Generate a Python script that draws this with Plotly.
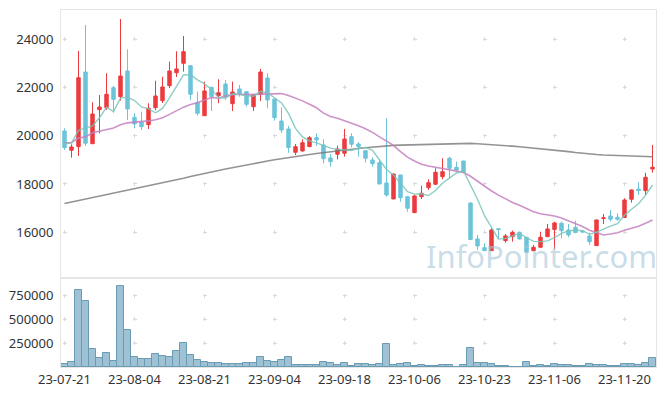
import plotly.graph_objects as go
from plotly.subplots import make_subplots
import pandas as pd

dates = [
    "23-07-21", "23-07-24", "23-07-25", "23-07-26", "23-07-27", "23-07-28", "23-07-31",
    "23-08-01", "23-08-02", "23-08-03", "23-08-04", "23-08-07", "23-08-08", "23-08-09",
    "23-08-10", "23-08-11", "23-08-14", "23-08-16", "23-08-17", "23-08-18", "23-08-21",
    "23-08-22", "23-08-23", "23-08-24", "23-08-25", "23-08-28", "23-08-29", "23-08-30",
    "23-08-31", "23-09-01", "23-09-04", "23-09-05", "23-09-06", "23-09-07", "23-09-08",
    "23-09-11", "23-09-12", "23-09-13", "23-09-14", "23-09-15", "23-09-18", "23-09-19",
    "23-09-20", "23-09-21", "23-09-22", "23-09-25", "23-09-26", "23-09-27", "23-10-04",
    "23-10-05", "23-10-06", "23-10-10", "23-10-11", "23-10-12", "23-10-13", "23-10-16",
    "23-10-17", "23-10-18", "23-10-19", "23-10-20", "23-10-23", "23-10-24", "23-10-25",
    "23-10-26", "23-10-27", "23-10-30", "23-10-31", "23-11-01", "23-11-02", "23-11-03",
    "23-11-06", "23-11-07", "23-11-08", "23-11-09", "23-11-10", "23-11-13", "23-11-14",
    "23-11-15", "23-11-16", "23-11-17", "23-11-20", "23-11-21", "23-11-22", "23-11-23",
    "23-11-24",
]

opens = [20194, 19395, 19544, 22635, 19669, 21075, 21158, 21985, 21613, 22676,
         20761, 20566, 20455, 21158, 21447, 22068, 22606, 22995, 22895, 21381,
         20827, 22002, 21654, 22138, 21323, 21932, 21820, 21199, 21712, 22386,
         21518, 20608, 20277, 19313, 19367, 19545, 19917, 19615, 19077, 19230,
         19271, 19958, 19656, 19379, 18994, 18883, 18043, 17381, 18374, 17476,
         16814, 17476, 17848, 17989, 18303, 19065, 18692, 18953, 17215, 15726,
         15366, 15242, 16150, 15656, 15821, 16003, 15796, 15242, 15383, 15821,
         16119, 16376, 16098, 16210, 16050, 15850, 15449, 16570, 16677, 16624,
         16615, 17368, 17790, 17724, 18622]
highs = [20306, 19644, 23504, 24579, 21381, 21683, 22581, 22056, 24827, 23574,
         20926, 20993, 21340, 22275, 22440, 23061, 23490, 24124, 22924, 21820,
         22234, 22020, 22333, 22304, 22234, 22097, 21850, 21700, 22759, 22581,
         21530, 21174, 20401, 19656, 19851, 19987, 20099, 19851, 19242, 19586,
         20277, 20099, 19727, 19400, 19106, 19023, 20719, 18430, 18380, 17500,
         17546, 17931, 18196, 18651, 19065, 19131, 18924, 18960, 17230, 15892,
         15548, 16168, 16150, 15933, 16070, 16030, 15800, 15478, 16028, 16346,
         16440, 16440, 16346, 16483, 16098, 15987, 16520, 16760, 16926, 16789,
         17410, 17770, 18072, 18469, 19615]
lows = [19408, 19089, 19160, 19573, 19650, 20099, 21063, 20950, 21450, 20649,
        20306, 20235, 20277, 21050, 21350, 21970, 22428, 22647, 21476, 20827,
        20810, 21021, 21340, 21476, 21021, 21613, 21200, 21021, 21435, 21133,
        20620, 20110, 19296, 19201, 19340, 19530, 19573, 18858, 18717, 19023,
        19131, 19520, 19131, 18883, 18717, 17990, 17476, 17370, 17269, 16855,
        16800, 17381, 17753, 17960, 18196, 18208, 18540, 18444, 15685, 15271,
        15230, 15230, 15755, 15573, 15615, 15700, 15170, 15230, 15370, 15800,
        15300, 15740, 15796, 15962, 15962, 15478, 15440, 16346, 16442, 16483,
        16600, 17228, 17546, 17546, 18469]
closes = [19503, 19532, 22399, 19685, 20897, 21187, 21712, 21505, 22469, 21104,
          20484, 20372, 21133, 21642, 22014, 22676, 22759, 23475, 21712, 20926,
          21849, 21613, 21778, 21613, 21807, 21753, 21298, 21683, 22635, 21476,
          20744, 20235, 19511, 19545, 19710, 19917, 19822, 19048, 18924, 19449,
          19863, 19644, 19545, 19065, 18841, 18001, 17546, 18415, 17435, 16996,
          17505, 17617, 18055, 18485, 18510, 18651, 18581, 18485, 15700, 15436,
          15242, 16098, 16120, 15850, 16003, 15726, 15176, 15383, 15796, 16140,
          16388, 16069, 15892, 15995, 16020, 15614, 16512, 16600, 16541, 16541,
          17339, 17753, 17730, 18278, 18692]
volumes = [31600, 56000, 812000, 696000, 190000, 98000, 148000, 67000, 854000, 390000,
           105000, 84000, 84000, 137000, 120000, 105000, 172000, 253000, 127000, 74000,
           53000, 42000, 42000, 32000, 32000, 32000, 42000, 42000, 105000, 67000,
           53000, 74000, 105000, 21000, 21000, 21000, 21000, 53000, 42000, 21000,
           42000, 10000, 32000, 32000, 21000, 32000, 243000, 21000, 32000, 42000,
           10000, 21000, 10000, 10000, 21000, 21000, 0, 21000, 200000, 42000,
           42000, 32000, 10000, 10000, 0, 0, 53000, 10000, 21000, 10000,
           32000, 21000, 21000, 10000, 10000, 32000, 21000, 21000, 10000, 10000,
           32000, 32000, 21000, 42000, 95000]

# moving-average values before enough visible history exists
ma5_head = [19670, 19690, 20220, 20300]
ma20_head = [19690, 19720, 19900, 19950, 20120, 20180, 20240, 20320, 20450, 20530,
             20560, 20580, 20610, 20660, 20740, 20880, 21030, 21180, 21290]
ma120 = [17190, 17250, 17310, 17370, 17430, 17490, 17550, 17610, 17670, 17730,
         17790, 17850, 17910, 17970, 18030, 18100, 18170, 18240, 18310, 18380,
         18440, 18500, 18560, 18620, 18680, 18730, 18780, 18840, 18890, 18950,
         19000, 19050, 19100, 19140, 19180, 19220, 19260, 19300, 19330, 19370,
         19400, 19440, 19470, 19500, 19530, 19560, 19580, 19600, 19610, 19620,
         19630, 19640, 19650, 19660, 19670, 19680, 19685, 19690, 19680, 19665,
         19650, 19630, 19610, 19590, 19565, 19540, 19515, 19490, 19460, 19430,
         19405, 19375, 19340, 19305, 19270, 19240, 19220, 19200, 19185, 19170,
         19160, 19150, 19140, 19135, 19130]

price_ticks = [16000, 18000, 20000, 22000, 24000]
volume_ticks = [250000, 500000, 750000]
label_step = 10

# ---------------------------------------------------------------
cs = pd.Series(closes, dtype=float)
ma5 = ma5_head + list(cs.rolling(5).mean().iloc[len(ma5_head):])
ma20 = ma20_head + list(cs.rolling(20).mean().iloc[len(ma20_head):])

n = len(dates)
xs = list(range(n))
tick_idx = list(range(0, n, label_step))
tick_txt = [dates[i] for i in tick_idx]

W, H = 665, 396
ML, MR, MT, MB = 61, 9, 10, 29
PW = W - ML - MR
PH = H - MT - MB
PRICE_H, VOL_H = 268, PH - 268
price_range = [14110, 25200]
vol_range = [0, 936000]
x_range = [-0.5, n - 0.5]

RED = "#ec3b3e"
BLUE = "#6cc4da"
GRID = "#d9d9d9"
FRAME = "#e6e6e6"


def cross_dash(centers, d=4):
    parts = ["0px"]
    cur = 0.0
    for c in sorted(centers):
        s = c - d / 2
        parts.append(f"{max(s - cur, 0):.2f}px")
        parts.append(f"{d}px")
        cur = s + d
    parts.append("3000px")
    return ",".join(parts)


x_px = [(i - x_range[0]) / (x_range[1] - x_range[0]) * PW for i in tick_idx]
p_px = [(price_range[1] - v) / (price_range[1] - price_range[0]) * PRICE_H for v in price_ticks]
v_px = [(vol_range[1] - v) / (vol_range[1] - vol_range[0]) * VOL_H for v in volume_ticks]

fig = make_subplots(rows=2, cols=1, shared_xaxes=True, vertical_spacing=0,
                    row_heights=[PRICE_H / PH, VOL_H / PH])

fig.add_trace(go.Candlestick(
    x=xs, open=opens, high=highs, low=lows, close=closes,
    increasing=dict(line=dict(color=RED, width=1), fillcolor=RED),
    decreasing=dict(line=dict(color=BLUE, width=1), fillcolor=BLUE),
    whiskerwidth=0, hoverinfo="skip"), row=1, col=1)

fig.add_trace(go.Scatter(x=xs, y=ma120, mode="lines",
                         line=dict(color="rgba(120,120,120,0.8)", width=1.6),
                         hoverinfo="skip"), row=1, col=1)
fig.add_trace(go.Scatter(x=xs, y=ma20, mode="lines",
                         line=dict(color="rgba(196,128,192,0.85)", width=1.6),
                         hoverinfo="skip"), row=1, col=1)
fig.add_trace(go.Scatter(x=xs, y=ma5, mode="lines",
                         line=dict(color="rgba(120,196,186,0.85)", width=1.4),
                         hoverinfo="skip"), row=1, col=1)

fig.add_trace(go.Bar(x=xs, y=volumes,
                     marker=dict(color="rgba(125,172,196,0.75)",
                                 line=dict(color="#6a9bb5", width=1)),
                     hoverinfo="skip"), row=2, col=1)

tickfont = dict(family="Noto Sans", size=13, color="#333333")

fig.update_xaxes(range=x_range, tickvals=tick_idx, ticktext=tick_txt,
                 showline=True, mirror=True, linecolor=FRAME, linewidth=1,
                 showgrid=True, gridcolor=GRID, gridwidth=1, ticks="",
                 zeroline=False, rangeslider_visible=False, tickfont=tickfont,
                 automargin=False)
fig.update_xaxes(griddash=cross_dash(p_px), showticklabels=False, row=1, col=1)
fig.update_xaxes(griddash=cross_dash(v_px), row=2, col=1)

fig.update_yaxes(showline=True, mirror=True, linecolor=FRAME, linewidth=1,
                 showgrid=True, gridcolor=GRID, gridwidth=1, ticks="",
                 zeroline=False, tickfont=tickfont, ticklabelstandoff=4,
                 griddash=cross_dash(x_px), automargin=False)
fig.update_yaxes(range=price_range, tickvals=price_ticks, tickformat="d", row=1, col=1)
fig.update_yaxes(range=vol_range, tickvals=volume_ticks, tickformat="d", row=2, col=1)

fig.add_annotation(text="InfoPointer.com", xref="paper", yref="paper",
                   x=0.807, y=0.311, xanchor="center", yanchor="middle",
                   showarrow=False,
                   font=dict(family="Noto Sans", size=31, color="rgba(165,198,215,0.6)"))

fig.update_layout(width=W, height=H, margin=dict(l=ML, r=MR, t=MT, b=MB),
                  paper_bgcolor="white", plot_bgcolor="white",
                  showlegend=False, bargap=0)

fig.write_html("out.html", config={"displayModeBar": False},
               post_script="document.body.style.margin='0px';document.body.style.padding='0px';")
